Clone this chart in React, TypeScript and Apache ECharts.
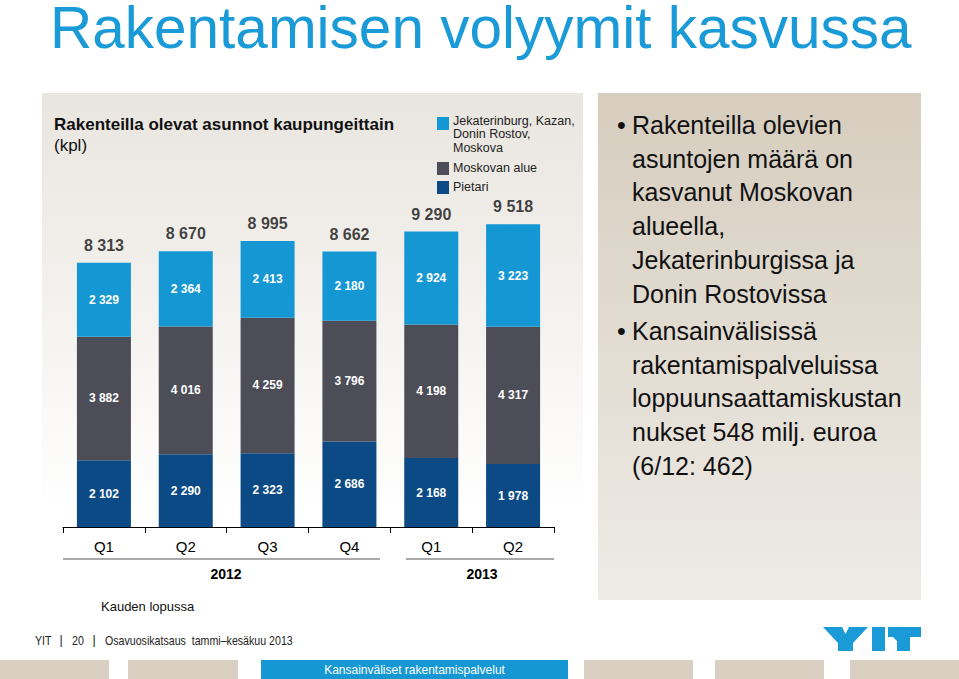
import React, { useEffect, useRef } from "react";
import * as echarts from "echarts";

const quarters = ["Q1", "Q2", "Q3", "Q4", "Q1", "Q2"];
const years = ["2012", "2013"];
const pietari = [2102, 2290, 2323, 2686, 2168, 1978];
const moskovanAlue = [3882, 4016, 4259, 3796, 4198, 4317];
const jekaterinburg = [2329, 2364, 2413, 2180, 2924, 3223];
const totals = [8313, 8670, 8995, 8662, 9290, 9518];
const seriesNames = ["Jekaterinburg, Kazan,\nDonin Rostov,\nMoskova", "Moskovan alue", "Pietari"];
const bulletOne = ["Rakenteilla olevien", "asuntojen määrä on", "kasvanut Moskovan", "alueella,", "Jekaterinburgissa ja", "Donin Rostovissa"];
const bulletTwo = ["Kansainvälisissä", "rakentamispalveluissa", "loppuunsaattamiskustan", "nukset 548 milj. euroa", "(6/12: 462)"];

const FONT = "'Liberation Sans', Arial, Helvetica, sans-serif";
const C_LIGHT = "#1597d4";
const C_GRAY = "#4c4d56";
const C_DARK = "#0b4a84";
const C_TITLE = "#1a9ad6";

const fmt = (v: number) => String(v).replace(/\B(?=(\d{3})+(?!\d))/g, " ");

function txt(x: number, y: number, text: string, size: number, opts: any = {}) {
  const align = opts.align || "left";
  const va = opts.va || "middle";
  const el: any = {
    type: "text",
    x,
    y,
    z: opts.z ?? 5,
    style: {
      text,
      fontSize: size,
      fontFamily: FONT,
      fontWeight: opts.bold ? "bold" : "normal",
      fill: opts.color || "#000",
      align,
      textAlign: align,
      verticalAlign: va,
      textVerticalAlign: va,
    },
  };
  if (opts.lineHeight) el.style.lineHeight = opts.lineHeight;
  if (opts.scaleX) el.scaleX = opts.scaleX;
  return el;
}

export default function App() {
  const ref = useRef<HTMLDivElement>(null);
  useEffect(() => {
    if (!ref.current) return;
    const chart = echarts.init(ref.current, undefined, { renderer: "svg" });
    const inner = () => ({
      show: true,
      position: "inside",
      color: "#fff",
      fontWeight: "bold",
      fontSize: 12,
      fontFamily: FONT,
      formatter: (p: any) => fmt(p.value),
    });
    const legendColors = [C_LIGHT, C_GRAY, C_DARK];
    const legendY = [117, 162, 181];
    const legendTextY = [120.5, 168, 187];

    const legendEls: any[] = [];
    seriesNames.forEach((name, i) => {
      legendEls.push({ type: "rect", z: 5, shape: { x: 437, y: legendY[i], width: 12, height: 13 }, style: { fill: legendColors[i] } });
      name.split("\n").forEach((line, j) => {
        legendEls.push(txt(453, legendTextY[i] + j * 13.5, line, 12.5, { color: "#222", lineHeight: 13 }));
      });
    });

    const bulletEls: any[] = [];
    const addBlock = (lines: string[], top: number) => {
      bulletEls.push(txt(617, top, "•", 25, { color: "#111" }));
      lines.forEach((line, j) => bulletEls.push(txt(632, top + j * 33.7, line, 25, { color: "#111" })));
    };
    addBlock(bulletOne, 125);
    addBlock(bulletTwo, 331);

    const graphic: any[] = [
      {
        type: "rect",
        z: -10,
        shape: { x: 42, y: 93, width: 541, height: 522 },
        style: {
          fill: {
            type: "linear", x: 0, y: 0, x2: 0, y2: 1,
            colorStops: [
              { offset: 0, color: "#e9e5df" },
              { offset: 0.45, color: "#f5f3f0" },
              { offset: 0.8, color: "#ffffff" },
              { offset: 1, color: "#ffffff" },
            ],
          },
        },
      },
      {
        type: "rect",
        z: -10,
        shape: { x: 598, y: 93, width: 323, height: 507 },
        style: {
          fill: {
            type: "linear", x: 0, y: 0, x2: 0, y2: 1,
            colorStops: [
              { offset: 0, color: "#d6cdbe" },
              { offset: 1, color: "#eeebe6" },
            ],
          },
        },
      },
      txt(50, 27, "Rakentamisen volyymit kasvussa", 58.5, { color: C_TITLE, lineHeight: 50 }),
      txt(54, 124, "Rakenteilla olevat asunnot kaupungeittain", 17, { bold: true, color: "#111" }),
      txt(54, 145, "(kpl)", 17, { color: "#111" }),
      ...legendEls,
      // year separators
      { type: "line", z: 5, shape: { x1: 63, y1: 559, x2: 380, y2: 559 }, style: { stroke: "#555", lineWidth: 1 } },
      { type: "line", z: 5, shape: { x1: 406, y1: 559, x2: 554, y2: 559 }, style: { stroke: "#555", lineWidth: 1 } },
      txt(226, 574, years[0], 14, { bold: true, align: "center" }),
      txt(482, 574, years[1], 14, { bold: true, align: "center" }),
      txt(101, 606, "Kauden lopussa", 13, { color: "#111" }),
      ...bulletEls,
      // footer
      txt(35, 640, "YIT", 12.5, { color: "#222", scaleX: 0.85 }),
      txt(61, 640, "|", 12.5, { color: "#222", align: "center" }),
      txt(72, 640, "20", 12.5, { color: "#222", scaleX: 0.85 }),
      txt(94, 640, "|", 12.5, { color: "#222", align: "center" }),
      txt(105, 640, "Osavuosikatsaus  tammi–kesäkuu 2013", 12.5, { color: "#222", scaleX: 0.85 }),
      { type: "rect", z: 1, shape: { x: 0, y: 660, width: 109, height: 19 }, style: { fill: "#d9d0c1" } },
      { type: "rect", z: 1, shape: { x: 128, y: 660, width: 110, height: 19 }, style: { fill: "#d9d0c1" } },
      { type: "rect", z: 1, shape: { x: 261, y: 660, width: 307, height: 19 }, style: { fill: "#1597d4" } },
      { type: "rect", z: 1, shape: { x: 584, y: 660, width: 109, height: 19 }, style: { fill: "#d9d0c1" } },
      { type: "rect", z: 1, shape: { x: 715, y: 660, width: 109, height: 19 }, style: { fill: "#d9d0c1" } },
      { type: "rect", z: 1, shape: { x: 850, y: 660, width: 109, height: 19 }, style: { fill: "#d9d0c1" } },
      txt(414.5, 669.5, "Kansainväliset rakentamispalvelut", 12, { color: "#fff", align: "center" }),
      // YIT logo
      {
        type: "polygon", z: 5,
        shape: { points: [[823, 627], [842, 627], [845.5, 634], [849, 627], [868, 627], [853, 643], [853, 651], [838, 651], [838, 643]] },
        style: { fill: C_TITLE },
      },
      { type: "rect", z: 5, shape: { x: 872, y: 627, width: 13, height: 24 }, style: { fill: C_TITLE } },
      {
        type: "polygon", z: 5,
        shape: { points: [[888, 627], [921, 627], [921, 637], [910, 637], [910, 651], [897, 651], [897, 641], [893, 637], [888, 637]] },
        style: { fill: C_TITLE },
      },
    ];

    chart.setOption({
      animation: false,
      grid: { left: 63, right: 405, top: 209, bottom: 152, containLabel: false },
      xAxis: {
        type: "category",
        data: quarters,
        boundaryGap: true,
        axisLine: { show: true, lineStyle: { color: "#000", width: 1 } },
        axisTick: { show: true, length: 6, lineStyle: { color: "#000" } },
        axisLabel: { color: "#000", fontSize: 15, fontFamily: FONT, margin: 12 },
        splitLine: { show: false },
      },
      yAxis: { type: "value", min: 0, max: 10000, show: false, splitLine: { show: false } },
      graphic,
      series: [
        {
          name: seriesNames[2], type: "bar", stack: "a", barWidth: 54, data: pietari,
          itemStyle: { color: C_DARK }, label: inner(),
        },
        {
          name: seriesNames[1], type: "bar", stack: "a", barWidth: 54, data: moskovanAlue,
          itemStyle: { color: C_GRAY }, label: inner(),
        },
        {
          name: seriesNames[0], type: "bar", stack: "a", barWidth: 54, data: jekaterinburg,
          itemStyle: { color: C_LIGHT }, label: inner(),
        },
        {
          name: "Yhteensä", type: "scatter", data: totals, symbolSize: 1,
          itemStyle: { color: "rgba(0,0,0,0)" },
          label: {
            show: true, position: "top", distance: 9, color: "#111",
            fontWeight: "bold", fontSize: 16, fontFamily: FONT,
            formatter: (p: any) => fmt(p.value),
          },
          z: 5,
        },
      ],
    });
    return () => chart.dispose();
  }, []);
  return <div ref={ref} style={{ position: "absolute", left: 0, top: 0, width: 959, height: 679 }} />;
}
